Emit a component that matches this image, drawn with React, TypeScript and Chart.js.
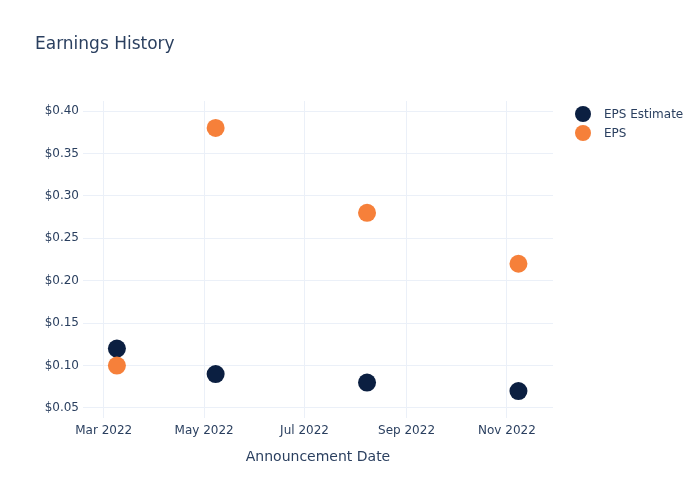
import React, { useEffect, useRef } from "react";
import { Chart, registerables } from "chart.js";

Chart.register(...registerables);

const seriesNames = ["EPS Estimate", "EPS"];
const announcementDates = ["2022-03-09", "2022-05-08", "2022-08-08", "2022-11-08"];
const epsEstimate = [0.12, 0.09, 0.08, 0.07];
const epsActual = [0.1, 0.38, 0.28, 0.22];
const xTickDates = ["2022-03-01", "2022-05-01", "2022-07-01", "2022-09-01", "2022-11-01"];
const yTicks = [0.05, 0.1, 0.15, 0.2, 0.25, 0.3, 0.35, 0.4];
const colors = ["#0b1f41", "#f6803a"];
const MONTHS = ["Jan", "Feb", "Mar", "Apr", "May", "Jun", "Jul", "Aug", "Sep", "Oct", "Nov", "Dec"];

const DAY = 86400000;
const toTs = (s: string) => {
  const [y, m, d] = s.split("-").map(Number);
  return Date.UTC(y, m - 1, d);
};

const FONT = "'DejaVu Sans', Verdana, Arial, sans-serif";
const TEXT = "#2a3f5f";
const GRID = "#ebf0f8";

export default function App() {
  const ref = useRef<HTMLCanvasElement | null>(null);
  useEffect(() => {
    document.body.style.margin = "0";
    const canvas = ref.current!;
    const overlay = {
      id: "overlay",
      afterDraw(chart: any) {
        const ctx = chart.ctx;
        ctx.save();
        ctx.fillStyle = TEXT;
        ctx.font = `17px ${FONT}`;
        ctx.textBaseline = "middle";
        ctx.textAlign = "left";
        ctx.fillText("Earnings History", 35, 45);
        seriesNames.forEach((name, i) => {
          const y = 114 + i * 19;
          ctx.beginPath();
          ctx.arc(583, y, 8, 0, Math.PI * 2);
          ctx.fillStyle = colors[i];
          ctx.fill();
          ctx.fillStyle = TEXT;
          ctx.font = `12px ${FONT}`;
          ctx.fillText(name, 604, y + 1);
        });
        ctx.restore();
      },
    };
    const chart = new Chart(canvas, {
      type: "scatter",
      data: {
        datasets: [
          {
            label: seriesNames[0],
            data: announcementDates.map((d, i) => ({ x: toTs(d), y: epsEstimate[i] })),
            backgroundColor: colors[0],
            borderColor: colors[0],
            pointRadius: 9,
            pointHoverRadius: 9,
            borderWidth: 0,
            order: 1,
          },
          {
            label: seriesNames[1],
            data: announcementDates.map((d, i) => ({ x: toTs(d), y: epsActual[i] })),
            backgroundColor: colors[1],
            borderColor: colors[1],
            pointRadius: 9,
            pointHoverRadius: 9,
            borderWidth: 0,
            order: 0,
          },
        ],
      },
      options: {
        animation: false,
        responsive: false,
        maintainAspectRatio: false,
        layout: { padding: { top: 101, right: 147, left: 0, bottom: 30 } },
        plugins: { legend: { display: false }, tooltip: { enabled: false } },
        scales: {
          x: {
            type: "linear",
            min: toTs("2022-02-17") - 0.6 * DAY,
            max: toTs("2022-11-29"),
            afterBuildTicks: (axis: any) => {
              axis.ticks = xTickDates.map((d) => ({ value: toTs(d) }));
            },
            afterFit: (axis: any) => {
              axis.height = 52;
            },
            ticks: {
              color: TEXT,
              font: { family: FONT, size: 12 },
              padding: 6,
              maxRotation: 0,
              autoSkip: false,
              callback: (v: any) => {
                const d = new Date(Number(v));
                return `${MONTHS[d.getUTCMonth()]} ${d.getUTCFullYear()}`;
              },
            },
            grid: { color: GRID, drawTicks: false, lineWidth: 1 },
            border: { display: false },
            title: {
              display: true,
              text: "Announcement Date",
              color: TEXT,
              font: { family: FONT, size: 14 },
              padding: { top: 4, bottom: 4 },
            },
          },
          y: {
            type: "linear",
            min: 0.0382,
            max: 0.4118,
            afterBuildTicks: (axis: any) => {
              axis.ticks = yTicks.map((v) => ({ value: v }));
            },
            afterFit: (axis: any) => {
              axis.width = 83;
            },
            ticks: {
              color: TEXT,
              font: { family: FONT, size: 12 },
              padding: 4,
              callback: (v: any) => "$" + Number(v).toFixed(2),
            },
            grid: { color: GRID, drawTicks: false, lineWidth: 1 },
            border: { display: false },
          },
        },
      },
      plugins: [overlay],
    } as any);
    return () => chart.destroy();
  }, []);
  return (
    <div style={{ width: 700, height: 500, background: "#fff" }}>
      <canvas ref={ref} width={700} height={500} style={{ width: 700, height: 500, display: "block" }} />
    </div>
  );
}
